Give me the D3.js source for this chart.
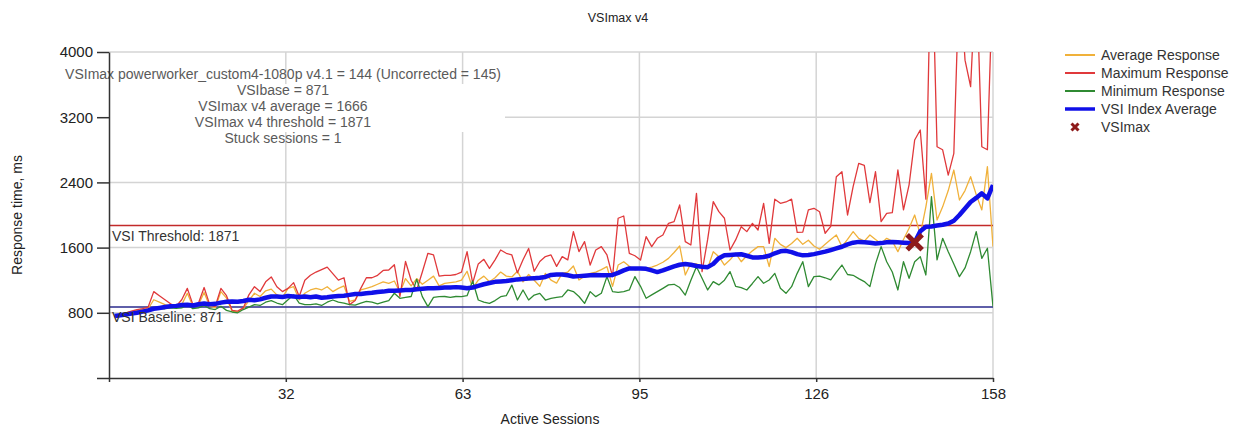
<!DOCTYPE html>
<meta charset="utf-8">
<style>
  body { margin: 0; background: #fff; }
  svg text { font-family: "Liberation Sans", Arial, sans-serif; }
  .grid line { stroke: #d4d4d4; stroke-width: 1.5px; }
  .axis path, .axis line { stroke: #333; stroke-width: 1.5px; }
  .axis text { font-size: 15px; fill: #222; }
  .series { fill: none; stroke-linejoin: round; }
</style>
<body>
<script src="https://d3js.org/d3.v7.min.js"></script>
<script>

// Values (one per active session, 1..158)
var vsiIndexAvg = [
  760,770,780,790,800,815,830,850,860,870,
  880,885,895,900,890,905,915,905,910,925,
  935,940,935,945,960,955,965,985,1000,1000,
  995,1005,1000,995,1000,990,1000,985,990,1000,
  1005,1010,1020,1030,1030,1040,1045,1055,1060,1070,
  1070,1075,1080,1080,1090,1095,1100,1100,1105,1110,
  1110,1115,1110,1100,1110,1130,1150,1165,1180,1185,
  1190,1200,1210,1215,1220,1225,1230,1240,1265,1270,
  1270,1260,1245,1250,1255,1260,1265,1260,1262,1265,
  1290,1320,1345,1345,1345,1340,1320,1300,1320,1345,
  1370,1390,1400,1390,1375,1365,1360,1400,1470,1505,
  1510,1515,1518,1500,1480,1478,1485,1500,1530,1555,
  1560,1545,1520,1505,1510,1520,1535,1550,1570,1590,
  1610,1640,1660,1670,1665,1660,1650,1655,1665,1670,
  1665,1660,1655,1666,1800,1857,1860,1870,1880,1895,
  1930,2000,2080,2160,2210,2266,2204,2368
];
var avgResponse = [
  760,780,800,815,830,840,850,960,930,900,
  880,870,900,1040,880,900,1050,880,860,1060,
  980,820,810,850,950,1040,1000,1070,1090,1020,
  990,1100,1120,960,1040,1080,1100,1080,1120,1060,
  1100,1130,940,960,1080,1100,1120,1150,1180,1160,
  1190,1050,1220,1130,1220,1150,1200,1250,1130,1160,
  1170,1180,1200,1310,1100,1200,1250,1180,1230,1300,
  1250,1240,1310,1180,1270,1200,1125,1284,1200,1165,
  1284,1300,1374,1203,1250,1284,1300,1330,1366,1125,
  1386,1427,1370,1325,1340,1346,1360,1386,1420,1468,
  1540,1620,1264,1407,1400,1374,1346,1550,1489,1386,
  1450,1530,1427,1500,1560,1612,1612,1366,1714,1640,
  1600,1650,1714,1640,1690,1620,1580,1640,1700,1755,
  1612,1700,1796,1714,1680,1755,1700,1650,1714,1680,
  1550,1700,1837,2000,1760,2100,2511,1939,2100,2300,
  2552,2184,2300,2470,2250,2062,2593,1612
];
var maxResponse = [
  760,780,800,820,840,850,870,1060,1010,960,
  910,880,960,1100,900,920,1110,900,880,1100,
  1010,830,820,860,1020,1120,1060,1180,1240,1120,
  1060,1100,1170,1000,1200,1260,1300,1330,1360,1280,
  1200,1230,900,950,1100,1230,1230,1260,1320,1325,
  1390,1000,1430,1200,1080,1300,1530,1510,1250,1260,
  1260,1270,1300,1550,1165,1400,1456,1344,1450,1570,
  1530,1510,1290,1450,1590,1310,1430,1490,1510,1370,
  1490,1450,1795,1550,1673,1386,1570,1612,1510,1244,
  1960,1988,1530,1500,1448,1735,1612,1714,1755,1898,
  1919,2123,1673,1632,2266,1305,1700,2164,2041,1960,
  1570,1694,1857,1796,1898,1816,2143,1652,2194,2143,
  2160,2194,1786,1790,2062,2082,2040,1776,1860,2470,
  2531,2000,2347,2634,2610,2153,2531,1919,2020,2030,
  2552,2062,2370,2920,3043,2194,5500,2838,2800,2490,
  2757,5000,3900,3575,5000,2838,2800,5000
];
var minResponse = [
  755,765,775,785,795,805,815,840,850,850,
  860,855,860,900,850,860,890,850,840,880,
  830,810,800,840,870,900,890,930,950,920,
  900,960,1020,920,900,900,910,890,930,957,
  930,920,900,895,920,940,930,910,930,950,
  1040,978,990,1000,1211,998,876,990,998,1000,
  990,1000,998,1010,1190,957,930,916,950,998,
  1010,1140,957,1080,957,1018,1039,957,978,990,
  998,1080,1060,1000,916,1060,998,1040,1244,1060,
  1050,1060,1080,1244,1125,978,1020,1060,1100,1142,
  1150,1110,1018,1200,1366,1223,1080,1183,1142,1200,
  1305,1125,1110,1080,1160,1244,1162,1203,1284,1100,
  1039,1121,1284,1427,1121,1244,1250,1230,1203,1300,
  1386,1270,1260,1220,1183,1121,1400,1612,1427,1300,
  1080,1427,1223,1427,1489,1264,2225,1450,1714,1550,
  1400,1244,1350,1550,1796,1468,1592,876
];

var vsiBase = 871, vsiThreshold = 1871;
var vsiMaxSession = 144, vsiMaxValue = 1666;

var yTicks = [0, 800, 1600, 2400, 3200, 4000];
var xTicks = [0, 31.6, 63.2, 94.8, 126.4, 158];

var infoLines = [
  "VSImax powerworker_custom4-1080p v4.1 = 144 (Uncorrected = 145)",
  "VSIbase = 871",
  "VSImax v4 average = 1666",
  "VSImax v4 threshold = 1871",
  "Stuck sessions = 1"
];

var legendItems = [
  { name: "Average Response", color: "#f0b13a", width: 2 },
  { name: "Maximum Response", color: "#e0393b", width: 2 },
  { name: "Minimum Response", color: "#2f8a32", width: 2 },
  { name: "VSI Index Average", color: "#1010e8", width: 3.5 },
  { name: "VSImax", color: "#8e1b1b", marker: true }
];

var width = 1237, height = 427;
var plot = { left: 109, right: 993, top: 52, bottom: 378 };

var svg = d3.select("body").append("svg")
    .attr("width", width).attr("height", height);

var x = d3.scaleLinear().domain([0, 158]).range([plot.left, plot.right]);
var y = d3.scaleLinear().domain([0, 4000]).range([plot.bottom, plot.top]);

// title
svg.append("text")
    .attr("x", 618).attr("y", 22)
    .attr("text-anchor", "middle")
    .style("font-size", "12.5px").style("fill", "#222")
    .text("VSImax v4");

// grid
var grid = svg.append("g").attr("class", "grid");
grid.selectAll(".h").data(yTicks.slice(1)).enter().append("line")
    .attr("x1", plot.left).attr("x2", plot.right)
    .attr("y1", function(d) { return y(d); }).attr("y2", function(d) { return y(d); });
grid.selectAll(".v").data(xTicks.slice(1)).enter().append("line")
    .attr("x1", function(d) { return x(d); }).attr("x2", function(d) { return x(d); })
    .attr("y1", plot.top).attr("y2", plot.bottom);

// white box behind the info block
svg.append("rect")
    .attr("x", plot.left + 1).attr("y", 84)
    .attr("width", 395).attr("height", 48)
    .attr("fill", "#fff");

var info = svg.append("g");
info.selectAll("text").data(infoLines).enter().append("text")
    .attr("x", 283)
    .attr("y", function(d, i) { return 79 + i * 16; })
    .attr("text-anchor", "middle")
    .style("font-size", "14px").style("fill", "#5a5a5a")
    .text(function(d) { return d; });

// threshold + baseline
svg.append("line")
    .attr("x1", plot.left).attr("x2", plot.right)
    .attr("y1", y(vsiThreshold)).attr("y2", y(vsiThreshold))
    .attr("stroke", "#c22a2a").attr("stroke-width", 1.5);
svg.append("line")
    .attr("x1", plot.left).attr("x2", plot.right)
    .attr("y1", y(vsiBase)).attr("y2", y(vsiBase))
    .attr("stroke", "#2a2a8c").attr("stroke-width", 1.5);

svg.append("text")
    .attr("x", plot.left + 3).attr("y", y(vsiThreshold) + 15)
    .style("font-size", "14px").style("fill", "#333")
    .text("VSI Threshold: " + vsiThreshold);

// series
svg.append("clipPath").attr("id", "clip").append("rect")
    .attr("x", plot.left).attr("y", plot.top)
    .attr("width", plot.right - plot.left).attr("height", plot.bottom - plot.top);

var line = d3.line()
    .x(function(d, i) { return x(i + 1); })
    .y(function(d) { return y(d); });

var series = svg.append("g").attr("clip-path", "url(#clip)");
[[avgResponse, legendItems[0], 1.3],
 [maxResponse, legendItems[1], 1.3],
 [minResponse, legendItems[2], 1.3],
 [vsiIndexAvg, legendItems[3], 4.5]].forEach(function(s) {
    series.append("path")
        .datum(s[0])
        .attr("class", "series")
        .attr("stroke", s[1].color)
        .attr("stroke-width", s[2])
        .attr("d", line);
});

svg.append("text")
    .attr("x", plot.left + 3).attr("y", y(vsiBase) + 15)
    .style("font-size", "14px").style("fill", "#333")
    .text("VSI Baseline: " + vsiBase);

// VSImax marker
function xMark(g, cx, cy, r, sw, color) {
    var p = d3.path();
    p.moveTo(cx - r, cy - r); p.lineTo(cx + r, cy + r);
    p.moveTo(cx - r, cy + r); p.lineTo(cx + r, cy - r);
    g.append("path").attr("d", p.toString())
        .attr("stroke", color).attr("stroke-width", sw)
        .attr("fill", "none");
}
xMark(svg, x(vsiMaxSession), y(vsiMaxValue), 7.5, 5, "#8e1b1b");

// axes
var yAxis = d3.axisLeft(y).tickValues(yTicks).tickSize(12).tickSizeOuter(0)
    .tickPadding(4)
    .tickFormat(function(d) { return d === 0 ? "" : d; });
svg.append("g").attr("class", "axis")
    .attr("transform", "translate(" + plot.left + ",0)")
    .call(yAxis);

var xAxis = d3.axisBottom(x).tickValues(xTicks).tickSize(4).tickSizeOuter(0)
    .tickPadding(6)
    .tickFormat(function(d) { return d === 0 ? "" : Math.round(d); });
svg.append("g").attr("class", "axis")
    .attr("transform", "translate(0," + plot.bottom + ")")
    .call(xAxis);

// axis titles
svg.append("text")
    .attr("x", 550).attr("y", 424)
    .attr("text-anchor", "middle")
    .style("font-size", "14px").style("fill", "#222")
    .text("Active Sessions");
svg.append("text")
    .attr("transform", "translate(22,215) rotate(-90)")
    .attr("text-anchor", "middle")
    .style("font-size", "14px").style("fill", "#222")
    .text("Response time, ms");

// legend
var legend = svg.append("g").attr("transform", "translate(1065,55)");
legendItems.forEach(function(d, i) {
    var g = legend.append("g").attr("transform", "translate(0," + (i * 18) + ")");
    if (d.marker) {
        xMark(g, 10, 0, 3.5, 3, d.color);
    } else {
        g.append("line").attr("x1", 0).attr("x2", 30)
            .attr("stroke", d.color).attr("stroke-width", d.width);
    }
    g.append("text").attr("x", 36).attr("y", 5)
        .style("font-size", "14px").style("fill", "#333")
        .text(d.name);
});

</script>
</body>
